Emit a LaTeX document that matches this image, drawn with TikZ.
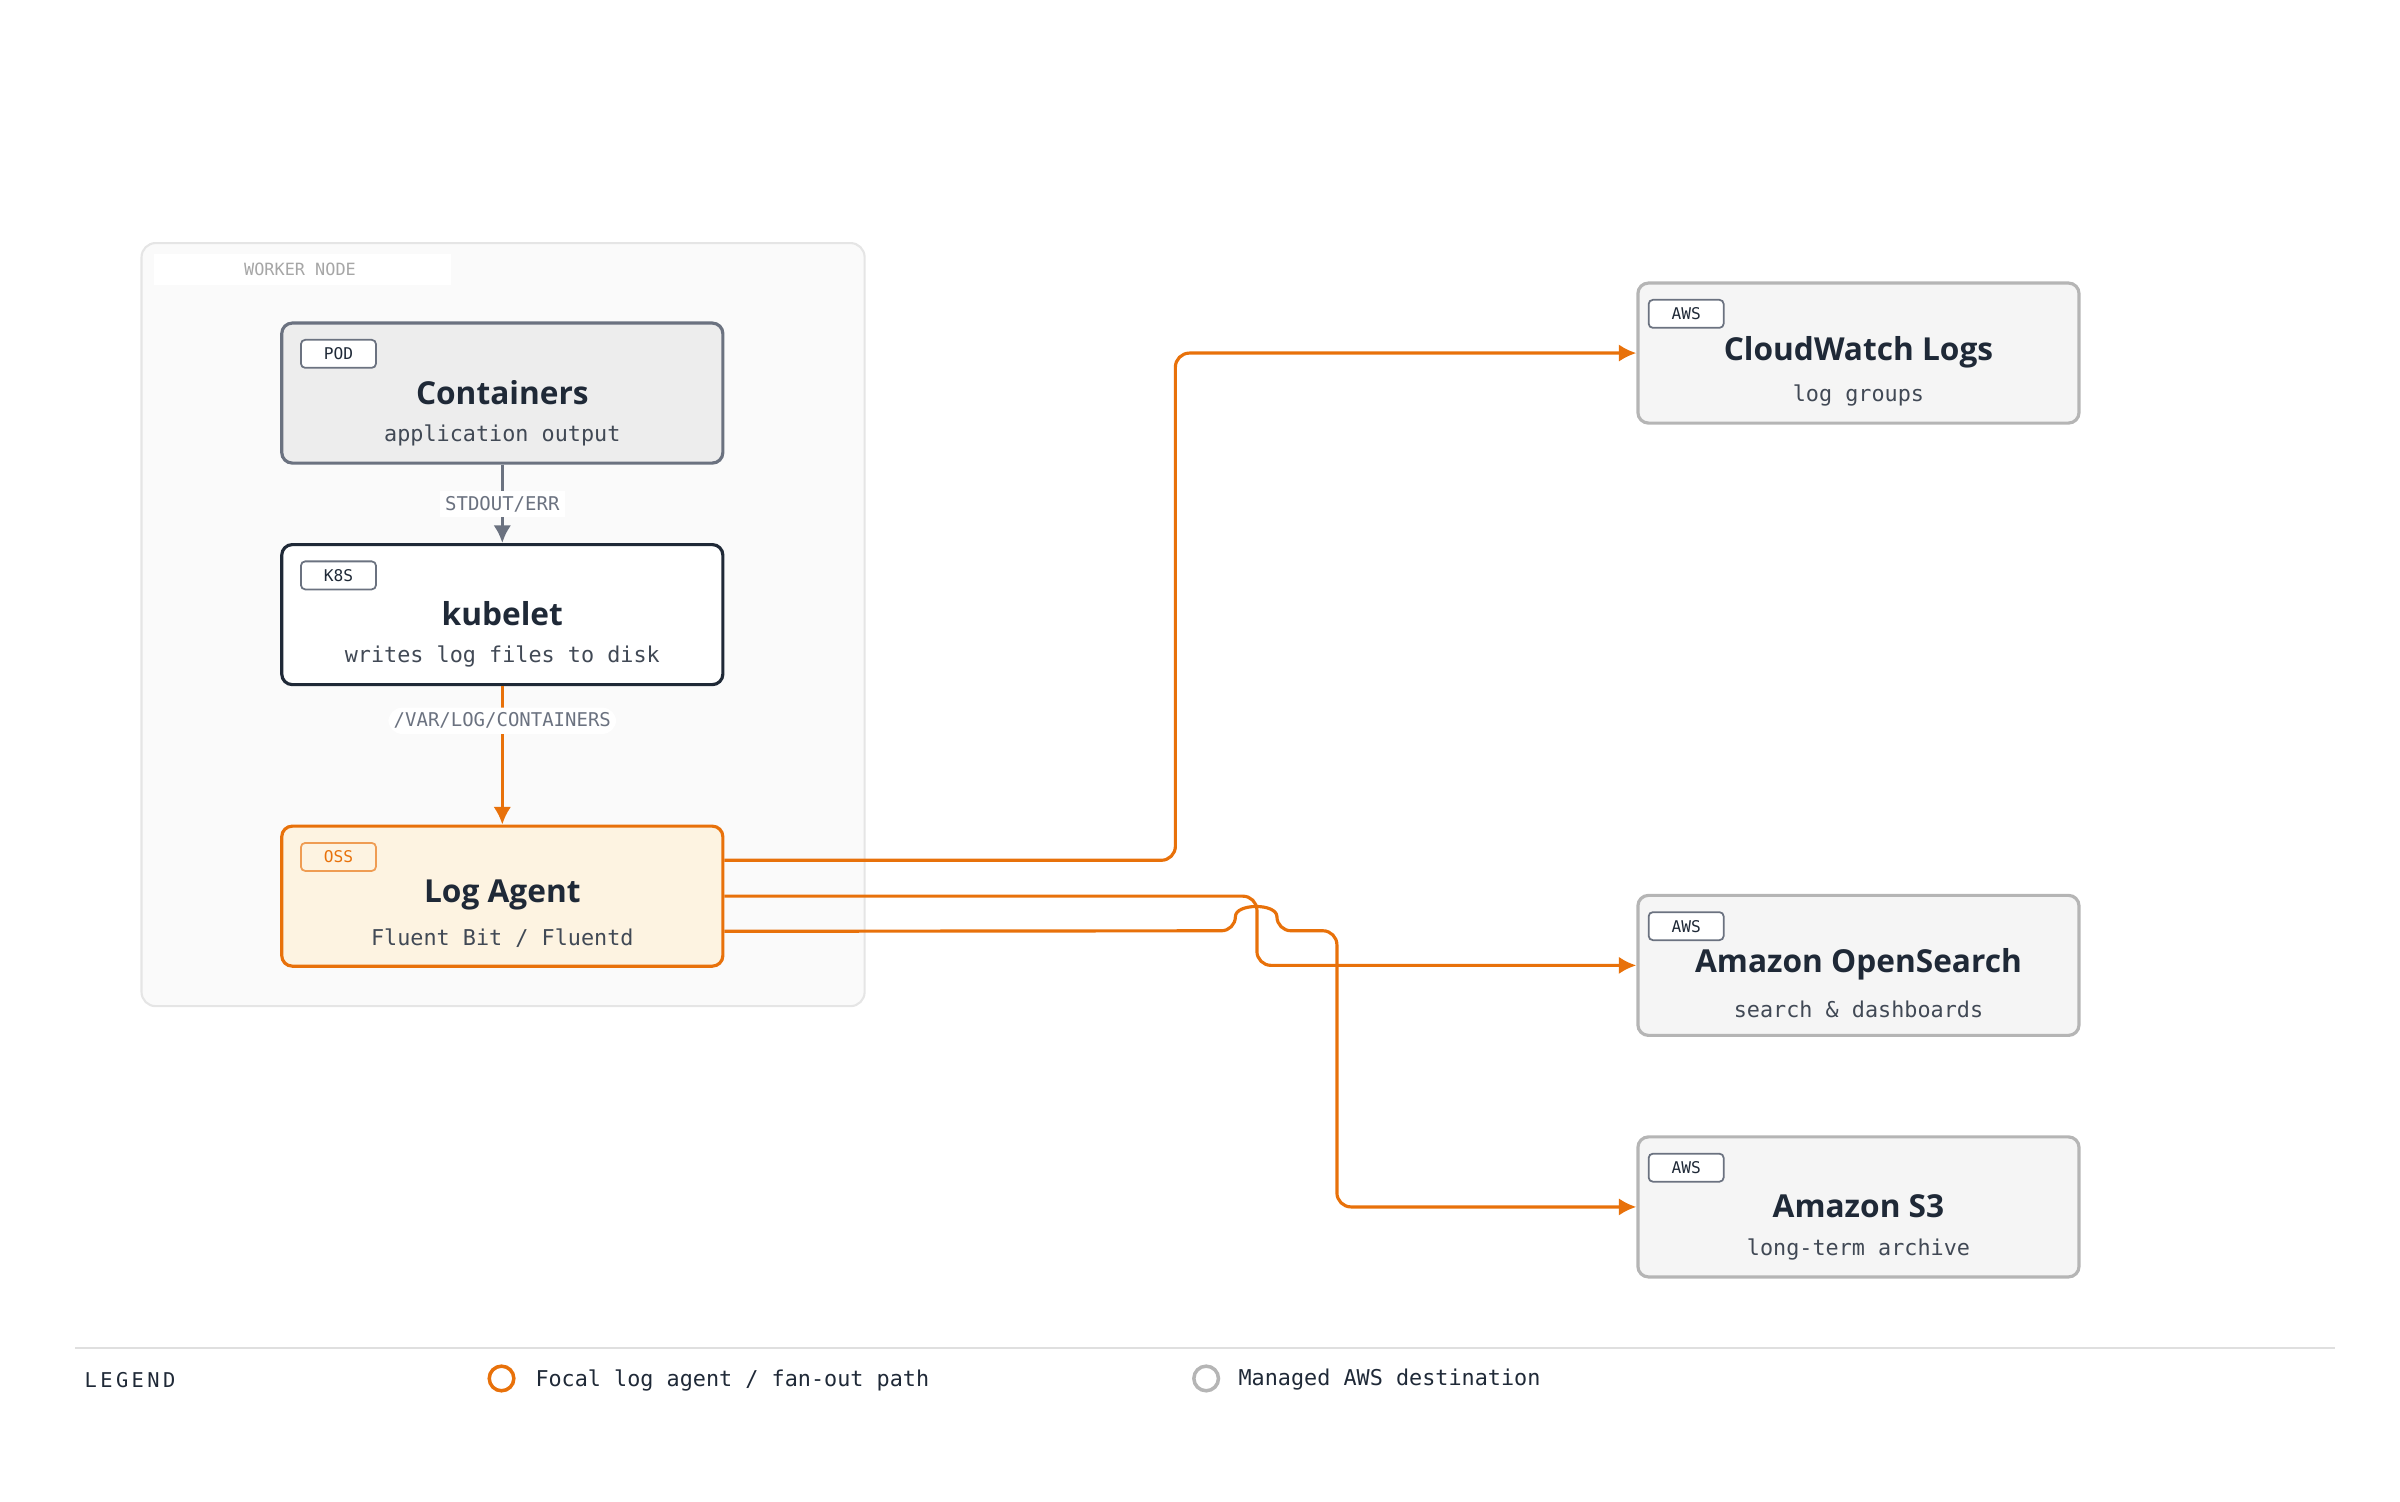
\documentclass[tikz,border=0pt]{standalone}
\usepackage{fontspec}
\setmainfont{Open Sans}
\setsansfont{Open Sans}
\setmonofont{DejaVu Sans Mono}
\usetikzlibrary{arrows.meta}
\definecolor{agentor}{HTML}{E8710A}
\definecolor{agentbg}{HTML}{FDF3E1}
\definecolor{inkdark}{HTML}{1F2937}
\definecolor{inkgray}{HTML}{6B7280}
\definecolor{awsline}{HTML}{B5B5B5}
\definecolor{awsbg}{HTML}{F5F5F5}

\begin{document}
\begin{tikzpicture}[x=0.01538cm,y=-0.01538cm,
	box/.style={draw,rounded corners=3pt,line width=0.9pt,minimum width=4.41cm,minimum height=1.40cm},
	tag/.style={draw,rounded corners=1.2pt,line width=0.5pt,font=\ttfamily\fontsize{4.6}{5}\selectfont,minimum width=0.75cm,minimum height=0.28cm,inner sep=0pt},
	title/.style={font=\bfseries\fontsize{9}{10}\selectfont,text=inkdark},
	sub/.style={font=\ttfamily\fontsize{6.2}{7}\selectfont,text=inkdark!85},
	flow/.style={draw=agentor,line width=0.9pt,-{Latex[length=5pt,width=5pt]},rounded corners=4pt},
	lbl/.style={fill=white,font=\ttfamily\fontsize{5.4}{6}\selectfont,text=inkgray,inner sep=1.5pt}]
	\useasboundingbox (0,0) rectangle (1560,976);

	% worker node frame
	\draw[rounded corners=4pt,fill=gray!4,draw=gray!20,line width=0.6pt] (92,158) rectangle (562,654);
	\fill[white] (100,165) rectangle (293,185);
	\node[font=\ttfamily\fontsize{4.8}{5}\selectfont,text=gray!70] (wlabel) at (195,175) {WORKER NODE};

	% boxes
	\node[box,fill=gray!14,draw=inkgray] (cont) at (326.5,255.5) {};
	\node[box,fill=white,draw=inkdark] (kub) at (326.5,399.5) {};
	\node[box,fill=agentbg,draw=agentor] (agent) at (326.5,582.5) {};
	\node[box,fill=awsbg,draw=awsline] (cw) at (1208,229.5) {};
	\node[box,fill=awsbg,draw=awsline] (os) at (1208,627.5) {};
	\node[box,fill=awsbg,draw=awsline] (s3) at (1208,784.5) {};

	\node[tag,draw=inkgray,fill=white,text=inkdark] at (220,230) {POD};
	\node[title] at (326.5,255) {Containers};
	\node[sub] at (326.5,283) {application output};

	\node[tag,draw=inkgray,fill=white,text=inkdark] at (220,374) {K8S};
	\node[title] at (326.5,399) {kubelet};
	\node[sub] at (326.5,427) {writes log files to disk};

	\node[tag,draw=agentor!70,fill=agentbg,text=agentor] at (220,557) {OSS};
	\node[title] at (326.5,582) {Log Agent};
	\node[sub] at (326.5,610) {Fluent Bit / Fluentd};

	\node[tag,draw=inkgray,fill=white,text=inkdark] at (1096,204) {AWS};
	\node[title] at (1208,229) {CloudWatch Logs};
	\node[sub] at (1208,257) {log groups};

	\node[tag,draw=inkgray,fill=white,text=inkdark] at (1096,602) {AWS};
	\node[title] at (1208,627) {Amazon OpenSearch};
	\node[sub] at (1208,656) {search \& dashboards};

	\node[tag,draw=inkgray,fill=white,text=inkdark] at (1096,759) {AWS};
	\node[title] at (1208,784) {Amazon S3};
	\node[sub] at (1208,812) {long-term archive};

	% connectors
	\draw[draw=inkgray,line width=0.9pt,-{Latex[length=5pt,width=5pt]}] (cont) -- node[lbl] {STDOUT/ERR} (kub);
	\draw[flow] (kub) -- node[lbl,pos=0.25] {/VAR/LOG/CONTAINERS} (agent);
	\draw[flow] ([yshift=10.2pt]agent.east) -| (764,400) |- (cw.west);
	\draw[flow] (agent.east) -| (817,605) |- (os.west);
	\draw[flow] ([yshift=-10pt]agent.east) -- (803,605) .. controls (803,587) and (830,587) .. (830,605) -| (869,700) |- (s3.west);

	% legend
	\draw[gray!25,line width=0.5pt] (49,876) -- (1518,876);
	\node[anchor=west,font=\ttfamily\fontsize{5.8}{6}\selectfont,text=inkdark] (leg) at (47,897) {L\,E\,G\,E\,N\,D};
	\draw[agentor,line width=1pt] (326,896) circle (8);
	\node[anchor=west,font=\ttfamily\fontsize{6.2}{7}\selectfont,text=inkdark] (lega) at (340,897) {Focal log agent / fan-out path};
	\draw[awsline,line width=1pt] (784,896) circle (8);
	\node[anchor=west,font=\ttfamily\fontsize{6.2}{7}\selectfont,text=inkdark] (legb) at (797,897) {Managed AWS destination};
\end{tikzpicture}
\end{document}
